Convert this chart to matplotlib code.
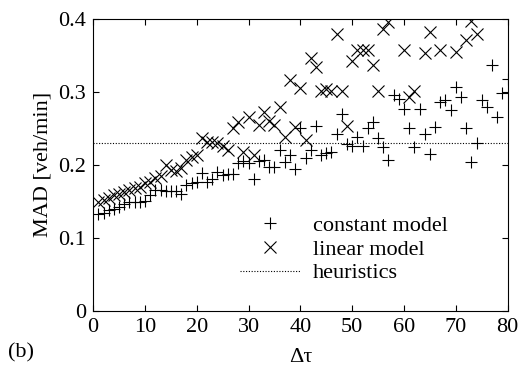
import numpy as np
import matplotlib
matplotlib.use('Agg')
import matplotlib.pyplot as plt

#delta tau values
dtau = np.arange(1, 81)
#constant model MAD
const_mad = [0.133, 0.134, 0.138, 0.140, 0.142, 0.146, 0.149, 0.149, 0.149, 0.150,
             0.159, 0.165, 0.165, 0.164, 0.164, 0.164, 0.160, 0.172, 0.175, 0.176,
             0.189, 0.176, 0.180, 0.190, 0.186, 0.187, 0.188, 0.202, 0.205, 0.203,
             0.181, 0.205, 0.207, 0.197, 0.197, 0.220, 0.204, 0.213, 0.195, 0.250,
             0.209, 0.220, 0.254, 0.2135, 0.216, 0.218, 0.243, 0.270, 0.228, 0.226,
             0.238, 0.226, 0.250, 0.259, 0.237, 0.225, 0.2065, 0.2955, 0.291, 0.277,
             0.251, 0.225, 0.277, 0.242, 0.2156, 0.252, 0.286, 0.289, 0.275, 0.307,
             0.293, 0.251, 0.204, 0.230, 0.289, 0.280, 0.337, 0.266, 0.299, 0.318]
#linear model MAD (nan = off the top of the plot)
nan = float('nan')
linear_mad = [0.149, 0.152, 0.155, 0.158, 0.160, 0.163, 0.166, 0.168, 0.170, 0.175,
              0.177, 0.182, 0.185, 0.1996, 0.193, 0.191, 0.196, 0.207, 0.211, 0.213,
              0.2375, 0.232, 0.232, 0.230, 0.226, 0.220, 0.250, 0.259, 0.2175, 0.266,
              0.2135, 0.255, 0.2726, 0.260, 0.255, 0.279, 0.238, 0.316, 0.252, 0.306,
              0.234, 0.347, 0.334, 0.302, 0.304, 0.302, 0.380, 0.302, 0.254, 0.342,
              0.358, 0.358, 0.357, 0.337, 0.301, 0.386, 0.396, nan, nan, 0.358,
              0.293, 0.302, nan, 0.353, 0.382, nan, 0.358, nan, nan, 0.355,
              nan, 0.371, 0.397, 0.379, nan, nan, nan, nan, nan, nan]
#heuristics level
heuristic = 0.23

plt.rcParams['font.family'] = ['Liberation Serif', 'DejaVu Serif']
plt.rcParams['font.size'] = 16

fig = plt.figure(figsize=(5.19, 3.74), dpi=100)
ax = fig.add_axes([0.1795, 0.1693, 0.7985, 0.7797])

ax.plot(dtau, const_mad, '+', color='black', markersize=8, markeredgewidth=0.8,
        label='constant model')
ax.plot(dtau, linear_mad, 'x', color='black', markersize=8.5, markeredgewidth=0.8,
        label='linear model')
ax.axhline(heuristic, color='black', linestyle=(0, (1, 1.5)), linewidth=0.8,
           label='heuristics')

ax.set_xlim(0, 80)
ax.set_ylim(0, 0.4)
ax.set_xticks(range(0, 81, 10))
ax.set_yticks([0, 0.1, 0.2, 0.3, 0.4])
ax.set_yticklabels(['0', '0.1', '0.2', '0.3', '0.4'])
ax.tick_params(direction='in', top=True, right=True, length=4, width=0.8, pad=5)
for s in ax.spines.values():
    s.set_linewidth(0.8)

ax.set_xlabel('\u0394\u03c4', labelpad=8)
ax.set_ylabel('MAD [veh/min]', labelpad=4)

ax.legend(loc='lower left', bbox_to_anchor=(0.316, 0.04), frameon=False,
          handlelength=2.7, handletextpad=0.6, labelspacing=0.15, borderpad=0.2)

fig.text(0.015, 0.045, '(b)')

fig.savefig('out.png', dpi=100)
